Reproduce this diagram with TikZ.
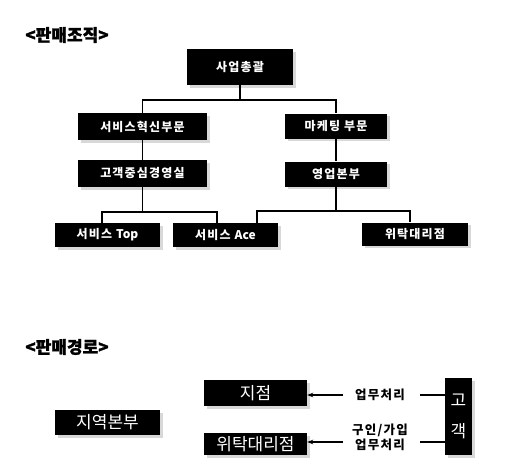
\documentclass[tikz,border=0pt]{standalone}
\usepackage{fontspec}
\setmainfont{Noto Sans CJK KR}
\newfontfamily\kbox[LetterSpace=10]{Noto Sans CJK KR}
\newfontfamily\kplain{Noto Sans CJK KR}
\newfontfamily\kheavy[FakeBold=1.5]{Noto Sans CJK KR}
\usetikzlibrary{arrows.meta,shadows}
\begin{document}
\begin{tikzpicture}[x=1pt,y=-1pt,
  orgbox/.style={fill=black,text=white,font=\kbox\bfseries\fontsize{12}{14}\selectfont,
    minimum height=25pt,inner sep=0pt,
    drop shadow={shadow xshift=2.5pt,shadow yshift=-2.5pt,fill=gray!60}},
  chbox/.style={fill=black,text=white,font=\fontsize{17}{20}\selectfont,
    inner sep=0pt,
    drop shadow={shadow xshift=2.5pt,shadow yshift=-2.5pt,fill=gray!60}},
  conn/.style={line width=1.3pt,black},
  arr/.style={line width=1.1pt,black,-{Stealth[length=6pt,width=4.5pt]}},
  lab/.style={font=\kbox\bfseries\fontsize{12.5}{15}\selectfont,inner sep=0pt},
  ttl/.style={font=\kheavy\bfseries\fontsize{17}{20}\selectfont,inner sep=0pt}]
\useasboundingbox (0,0) rectangle (512,472);
\fill[white] (0,0) rectangle (512,472);

% titles
\node[ttl] (t1) at (67,35) {<판매조직>};
\node[ttl] (t2) at (67,347) {<판매경로>};

% organisation
\node[orgbox,minimum width=106pt,minimum height=36pt] (top) at (240,67) {사업총괄};
\node[orgbox,minimum width=129pt,minimum height=27pt] (svc) at (142.5,126.5) {서비스혁신부문};
\node[orgbox,minimum width=102pt] (mkt) at (336,126) {마케팅 부문};
\node[orgbox,minimum width=129pt,minimum height=27pt] (cx) at (142.5,173.5) {고객중심경영실};
\node[orgbox,minimum width=102pt] (sales) at (336,174) {영업본부};
\node[orgbox,minimum width=105pt,minimum height=24pt] (stop) at (107.5,235) {서비스 {\kplain\bfseries Top}};
\node[orgbox,minimum width=105pt,minimum height=24pt] (sace) at (225.5,235) {서비스 {\kplain\bfseries Ace}};
\node[orgbox,minimum width=106pt,minimum height=23pt] (agent) at (415,234) {위탁대리점};

\coordinate (j1) at (240,100);
\draw[conn] (top.south) -- (j1);
\draw[conn] (svc.north) |- (j1) -| (mkt.north);
\draw[conn] (svc.south) -- (cx.north);
\draw[conn] (mkt.south) -- (sales.north);
\coordinate (j2) at (142.5,212);
\draw[conn] (cx.south) -- (j2);
\draw[conn] ([xshift=-5.5pt]stop.north) |- (j2) -| ([xshift=-8.5pt]sace.north);
\coordinate (j3) at (336,211);
\draw[conn] (sales.south) -- (j3);
\draw[conn] ([xshift=31.5pt]sace.north) |- (j3) -| ([xshift=-5pt]agent.north);

% sales channels
\node[chbox,minimum width=105pt,minimum height=25pt] (region) at (107.5,422.5) {지역본부};
\node[chbox,minimum width=103pt,minimum height=26pt] (branch) at (255.5,393) {지점};
\node[chbox,minimum width=103pt,minimum height=22pt] (agent2) at (255.5,444) {위탁대리점};
\node[chbox,minimum width=27pt,minimum height=77pt,align=center,
  font=\fontsize{17}{31}\selectfont] (cust) at (458.5,416.5) {고\\객};

\node[lab] (l1) at (380,395) {업무처리};
\node[lab,align=center] (l2) at (380,437.5) {구인/가입\\업무처리};

\coordinate (a1) at (343,395);
\coordinate (b1) at (420,395);
\coordinate (a2) at (343,442);
\coordinate (b2) at (420,442);
\draw[arr] (a1) -- (a1 -| branch.east);
\draw[conn] (b1) -- (b1 -| cust.west);
\draw[arr] (a2) -- (a2 -| agent2.east);
\draw[conn] (b2) -- (b2 -| cust.west);
\end{tikzpicture}
\end{document}
